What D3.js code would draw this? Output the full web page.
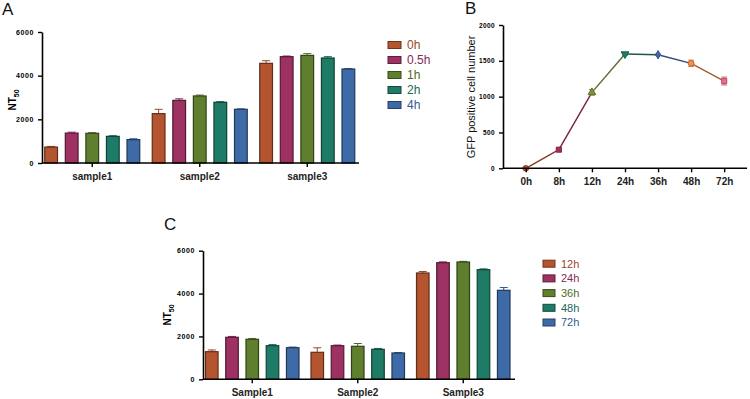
<!DOCTYPE html>
<html>
<head>
<meta charset="utf-8">
<script src="https://cdn.jsdelivr.net/npm/d3@7"></script>
<style>
  body { margin: 0; background: #fff; }
  text { font-family: Arial, "Liberation Sans", sans-serif; }
</style>
</head>
<body>
<svg id="fig" width="750" height="399"></svg>
<script>
// panel A data
const groupsA = ["sample1", "sample2", "sample3"];
const timesA = ["0h", "0.5h", "1h", "2h", "4h"];
const valuesA = [[730, 1370, 1360, 1220, 1070], [2260, 2870, 3070, 2780, 2460], [4565, 4870, 4930, 4810, 4305]];
const errA = [[30, 40, 30, 30, 40], [200, 70, 40, 30, 20], [120, 30, 80, 60, 20]];

// panel B data
const timesB = ["0h", "8h", "12h", "24h", "36h", "48h", "72h"];
const valuesB = [0, 260, 1060, 1595, 1585, 1465, 1218];
const errB = [10, 15, 40, 15, 10, 45, 55];

// panel C data
const groupsC = ["Sample1", "Sample2", "Sample3"];
const timesC = ["12h", "24h", "36h", "48h", "72h"];
const valuesC = [[1288, 1960, 1866, 1568, 1475], [1260, 1568, 1540, 1400, 1227], [4960, 5440, 5473, 5114, 4152]];
const errC = [[80, 40, 40, 50, 30], [210, 30, 130, 40, 20], [70, 40, 30, 40, 130]];

const barColors = ["#b4552f", "#9c3162", "#5f7f2e", "#1e7b65", "#3f6aa8"];
const pointColors = ["#b4552f", "#a3305c", "#7c8f3c", "#1e7b65", "#3f6aa8", "#e0813f", "#d8607e"];

const svg = d3.select("#fig");

function barPanel(opt) {
    const g = svg.append("g");
    const y = d3.scaleLinear().domain([0, 6000]).range([opt.y0, opt.y1]);
    const x = d3.scaleBand().domain(opt.groups).range(opt.xr).padding(0);
    const x1 = d3.scaleBand().domain(opt.times).range([-opt.inner, opt.inner]).paddingInner(0.38).paddingOuter(0);
    const color = d3.scaleOrdinal().domain(opt.times).range(barColors);

    opt.values.forEach((row, gi) => {
        const grp = g.append("g").attr("transform", "translate(" + (x(opt.groups[gi]) + x.bandwidth() / 2) + ",0)");
        row.forEach((v, i) => {
            const t = opt.times[i];
            const bx = x1(t), bw = x1.bandwidth();
            const c = color(t);
            // error bar (upper only)
            grp.append("line")
                .attr("x1", bx + bw / 2).attr("x2", bx + bw / 2)
                .attr("y1", y(v)).attr("y2", y(v + opt.err[gi][i]))
                .attr("stroke", d3.color(c).darker(0.5)).attr("stroke-width", 1);
            grp.append("line")
                .attr("x1", bx + bw / 2 - 4).attr("x2", bx + bw / 2 + 4)
                .attr("y1", y(v + opt.err[gi][i])).attr("y2", y(v + opt.err[gi][i]))
                .attr("stroke", d3.color(c).darker(0.5)).attr("stroke-width", 1);
            grp.append("rect")
                .attr("x", bx).attr("width", bw)
                .attr("y", y(v)).attr("height", y(0) - y(v))
                .attr("fill", c)
                .attr("stroke", d3.color(c).darker(1.8)).attr("stroke-width", 1.2);
        });
    });

    // y axis
    const ya = g.append("g")
        .attr("transform", "translate(" + opt.axisX + ",0)")
        .call(d3.axisLeft(y).tickValues([0, 2000, 4000, 6000]).tickSize(4).tickSizeOuter(0).tickFormat(d3.format("d")));
    ya.selectAll("text").attr("font-size", 7).attr("font-weight", "bold").attr("letter-spacing", 0.6).attr("dx", -1);

    // x axis
    const xa = g.append("g")
        .attr("transform", "translate(0," + opt.y0 + ")")
        .call(d3.axisBottom(x).tickSize(4).tickSizeOuter(0));
    xa.select(".domain").remove();
    xa.append("line").attr("x1", opt.axisX).attr("x2", opt.axisEnd).attr("stroke", "#000").attr("stroke-width", 1.6);
    xa.selectAll("text").attr("font-size", 10).attr("font-weight", "bold").attr("fill", "#222").attr("dy", "0.95em");
    g.selectAll(".domain").attr("stroke-width", 1.6);
    g.selectAll(".tick line").attr("stroke-width", 1.4);

    // NT50 label
    const lab = g.append("text")
        .attr("transform", "translate(" + opt.labX + "," + opt.labY + ") rotate(-90)")
        .attr("text-anchor", "middle").attr("font-size", 10).attr("font-weight", "bold");
    lab.append("tspan").text("NT");
    lab.append("tspan").attr("font-size", 7).attr("dy", 3).text("50");

    // legend
    const leg = g.append("g").attr("transform", "translate(" + opt.legX + "," + opt.legY + ")");
    opt.times.forEach((t, i) => {
        const c = color(t);
        leg.append("rect").attr("x", 0).attr("y", i * opt.legStep - 3.5).attr("width", opt.sq).attr("height", 7)
            .attr("fill", c).attr("stroke", d3.color(c).darker(1.4)).attr("stroke-width", 1);
        leg.append("text").attr("x", opt.sq + 6).attr("y", i * opt.legStep).attr("dy", "0.36em")
            .attr("font-size", opt.legFont).attr("fill", d3.color(c).darker(0.5)).text(t);
    });

    svg.append("text").attr("x", opt.letterX).attr("y", opt.letterY).attr("font-size", 17).attr("fill", "#111").text(opt.letter);
}

barPanel({
    groups: groupsA, times: timesA, values: valuesA, err: errA,
    y0: 163, y1: 32, xr: [38.5, 361], inner: 47.5, axisX: 42, axisEnd: 359,
    labX: 16, labY: 100, legX: 388, legY: 45, legStep: 15, sq: 13, legFont: 12,
    letter: "A", letterX: 2, letterY: 15
});

barPanel({
    groups: groupsC, times: timesC, values: valuesC, err: errC,
    y0: 379.3, y1: 250.7, xr: [199.5, 516], inner: 46.75, axisX: 203, axisEnd: 515,
    labX: 171, labY: 315, legX: 543, legY: 263.7, legStep: 14.7, sq: 12, legFont: 11,
    letter: "C", letterX: 164, letterY: 230
});

// panel B: line with markers
(function () {
    const g = svg.append("g");
    const y = d3.scaleLinear().domain([0, 2000]).range([168.3, 25]);
    const x = d3.scalePoint().domain(timesB).range([503, 747]).padding(0.69);
    const shapes = [d3.symbolCircle, d3.symbolSquare, d3.symbolTriangle, d3.symbolTriangle, d3.symbolDiamond, d3.symbolCircle, d3.symbolSquare];

    // segments coloured by their starting point
    for (let i = 0; i < timesB.length - 1; i++) {
        g.append("line")
            .attr("x1", x(timesB[i])).attr("y1", y(valuesB[i]))
            .attr("x2", x(timesB[i + 1])).attr("y2", y(valuesB[i + 1]))
            .attr("stroke", d3.color(pointColors[i]).darker(0.9)).attr("stroke-width", 1.4);
    }

    timesB.forEach((t, i) => {
        const cx = x(t), v = valuesB[i], c = pointColors[i];
        [v + errB[i], Math.max(0, v - errB[i])].forEach(e => {
            g.append("line").attr("x1", cx - 3).attr("x2", cx + 3).attr("y1", y(e)).attr("y2", y(e))
                .attr("stroke", c).attr("stroke-width", 1);
        });
        g.append("line").attr("x1", cx).attr("x2", cx).attr("y1", y(v + errB[i])).attr("y2", y(Math.max(0, v - errB[i])))
            .attr("stroke", c).attr("stroke-width", 1);
        g.append("path")
            .attr("d", d3.symbol().type(shapes[i]).size(i === 4 ? 20 : 26)())
            .attr("transform", "translate(" + cx + "," + y(v) + ")" + (i === 3 ? " rotate(180)" : ""))
            .attr("fill", i >= 5 ? d3.color(c).brighter(0.3) : c)
            .attr("stroke", d3.color(c).darker(0.6)).attr("stroke-width", 1);
    });

    const ya = g.append("g").attr("transform", "translate(503,0)")
        .call(d3.axisLeft(y).tickValues([0, 500, 1000, 1500, 2000]).tickSize(4).tickSizeOuter(0).tickFormat(d3.format("d")));
    ya.selectAll("text").attr("font-size", 6.5).attr("font-weight", "bold").attr("letter-spacing", 0.4).attr("dx", -1);

    const xa = g.append("g").attr("transform", "translate(0,168.3)")
        .call(d3.axisBottom(x).tickSize(4).tickSizeOuter(0));
    xa.select(".domain").attr("d", "M503,0H747");
    xa.selectAll("text").attr("font-size", 10).attr("font-weight", "bold").attr("fill", "#222").attr("dy", "0.95em");
    g.selectAll(".domain").attr("stroke-width", 1.6);
    g.selectAll(".tick line").attr("stroke-width", 1.4);

    g.append("text")
        .attr("transform", "translate(475,97) rotate(-90)")
        .attr("text-anchor", "middle").attr("font-size", 11).attr("fill", "#111")
        .text("GFP positive cell number");

    svg.append("text").attr("x", 465).attr("y", 14).attr("font-size", 17).attr("fill", "#111").text("B");
})();
</script>
</body>
</html>
